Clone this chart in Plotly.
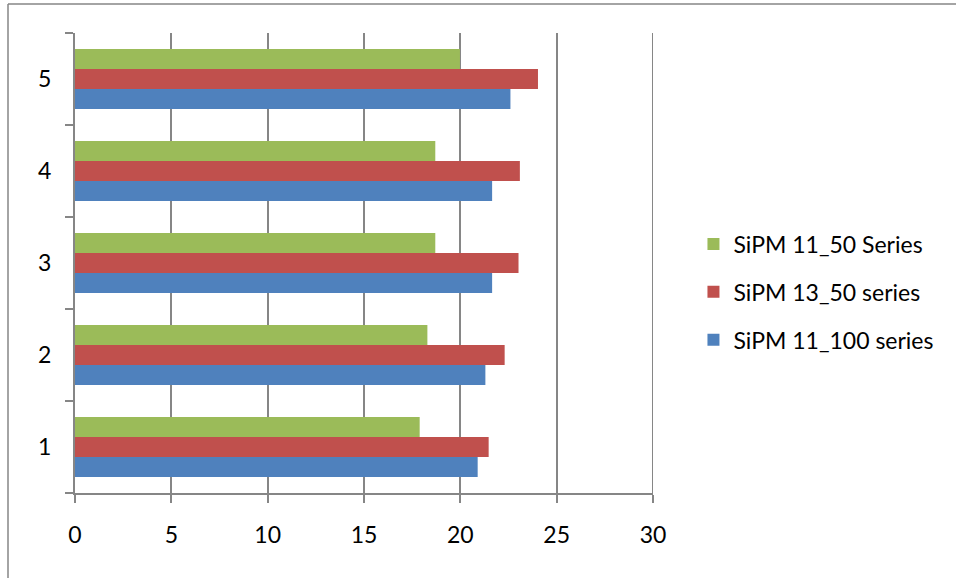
import plotly.graph_objects as go

categories = ["1", "2", "3", "4", "5"]
series_names = ["SiPM 11_100 series", "SiPM 13_50 series", "SiPM 11_50 Series"]
sipm_11_100 = [20.9, 21.3, 21.65, 21.65, 22.6]
sipm_13_50 = [21.47, 22.3, 23.02, 23.09, 24.03]
sipm_11_50 = [17.89, 18.29, 18.7, 18.7, 19.98]
x_ticks = [0, 5, 10, 15, 20, 25, 30]

colors = ["#4F81BD", "#C0504D", "#9BBB59"]
legend_ranks = [3, 2, 1]
FONT = "Lato"
GRAY = "#868686"

fig = go.Figure()
for name, vals, col, rank in zip(series_names, [sipm_11_100, sipm_13_50, sipm_11_50], colors, legend_ranks):
    fig.add_trace(go.Bar(
        y=categories, x=vals, name=name, orientation="h",
        marker=dict(color=col, line=dict(width=0)),
        legendgroup=name, legendrank=rank,
    ))

fig.update_layout(
    width=956, height=578,
    margin=dict(l=75, r=303, t=33, b=85),
    paper_bgcolor="white", plot_bgcolor="white",
    barmode="group", bargap=0.35, bargroupgap=0,
    font=dict(family=FONT, size=22, color="#000000"),
    legend=dict(
        x=1.07, xanchor="left", y=0.437, yanchor="middle",
        traceorder="grouped", tracegroupgap=15,
        font=dict(family=FONT, size=23, color="#000000"),
        itemwidth=30,
    ),
    xaxis=dict(
        range=[0, 30], tickvals=x_ticks, ticktext=[str(v) for v in x_ticks],
        showgrid=True, gridcolor=GRAY, gridwidth=2,
        showline=True, linecolor=GRAY, linewidth=2,
        ticks="outside", ticklen=8, tickcolor=GRAY, tickwidth=2,
        ticklabelstandoff=12, zeroline=False,
        tickfont=dict(family=FONT, size=23),
    ),
    yaxis=dict(
        type="category",
        showgrid=False, showline=True, linecolor=GRAY, linewidth=2,
        ticks="outside", ticklen=8, tickcolor=GRAY, tickwidth=2,
        tickson="boundaries", ticklabelstandoff=17,
        tickfont=dict(family=FONT, size=23),
    ),
    shapes=[
        dict(type="line", xref="x", yref="paper", layer="below",
             x0=x_ticks[-1], x1=x_ticks[-1], y0=0, y1=1,
             line=dict(color=GRAY, width=2)),
        dict(type="line", xref="paper", yref="paper",
             x0=(8 - 75) / 578, x1=(8 - 75) / 578, y0=(493 - 4) / 460, y1=(493 - 600) / 460,
             line=dict(color=GRAY, width=1.5)),
        dict(type="line", xref="paper", yref="paper",
             x0=(8 - 75) / 578, x1=(1000 - 75) / 578, y0=(493 - 4) / 460, y1=(493 - 4) / 460,
             line=dict(color=GRAY, width=1.5)),
    ],
)

fig.write_html("out.html")
